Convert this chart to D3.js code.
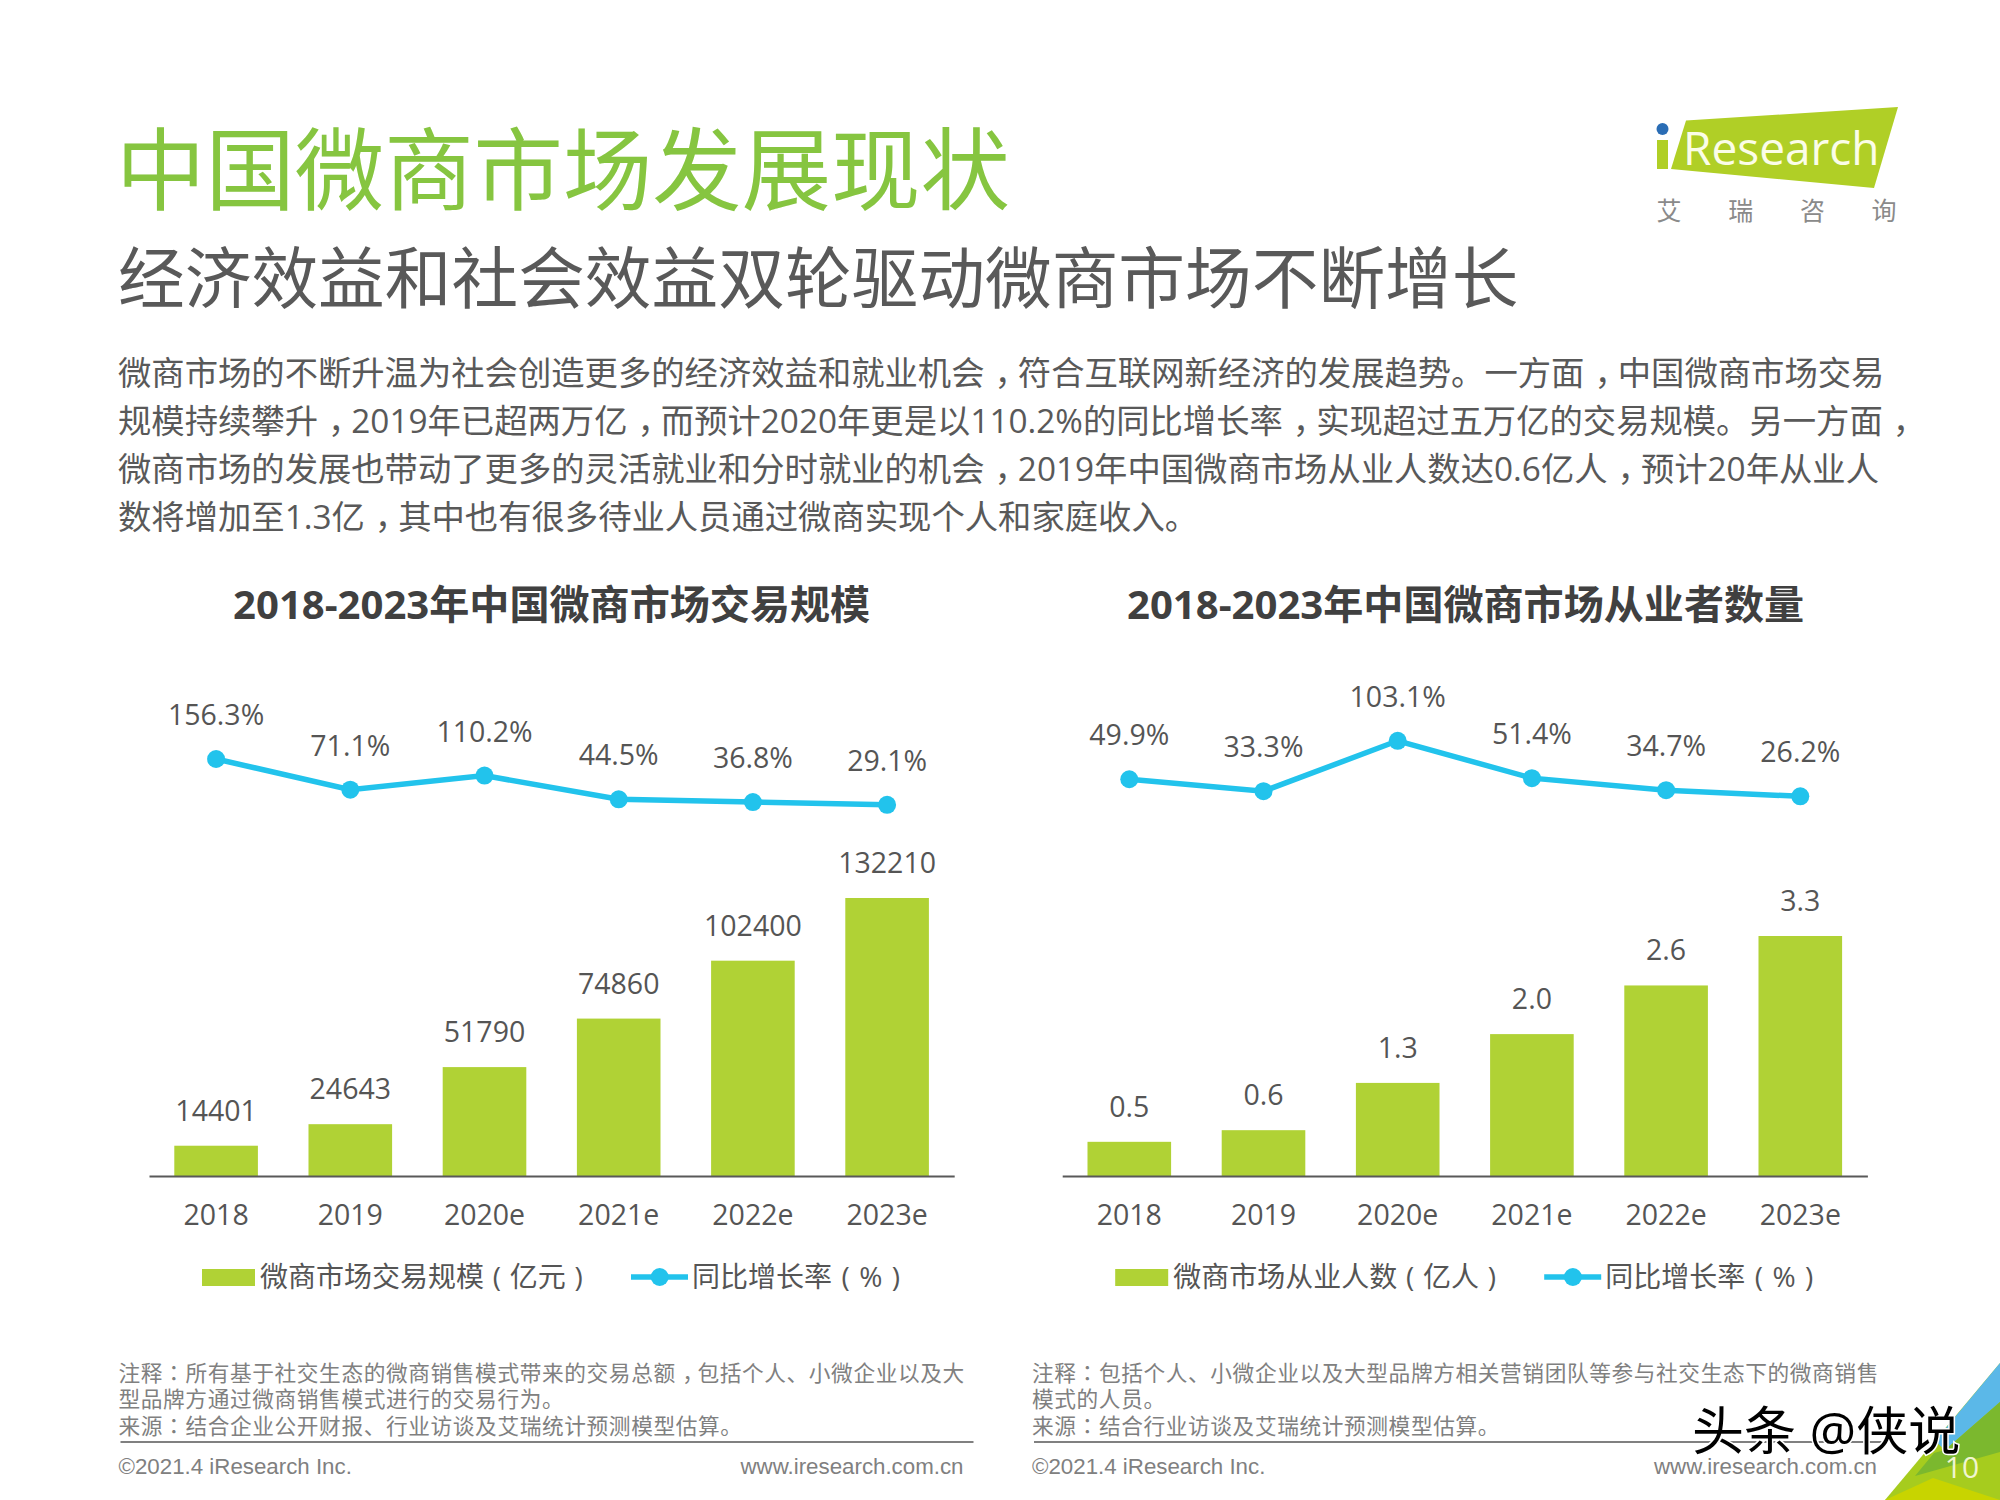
<!DOCTYPE html>
<html>
<head>
<meta charset="utf-8">
<script src="https://cdn.jsdelivr.net/npm/d3@7"></script>
<style>
html, body { margin: 0; padding: 0; background: #fff; }
svg { display: block; }
text { font-family: "Open Sans", "Noto Sans CJK SC", sans-serif; }
tspan.mid { font-family: "Open Sans", "Noto Sans CJK TC", sans-serif; }
</style>
</head>
<body>
<svg width="2000" height="1500"></svg>
<script>
// Data
var years = ["2018", "2019", "2020e", "2021e", "2022e", "2023e"];
var tradeValues = [14401, 24643, 51790, 74860, 102400, 132210];
var tradeGrowth = [156.3, 71.1, 110.2, 44.5, 36.8, 29.1];
var workerValues = [0.47, 0.63, 1.28, 1.951, 2.62, 3.3];
var workerGrowth = [49.9, 33.3, 103.1, 51.4, 34.7, 26.2];

var pageTitle = "中国微商市场发展现状";
var pageSubtitle = "经济效益和社会效益双轮驱动微商市场不断增长";
var bodyLines = [
  "微商市场的不断升温为社会创造更多的经济效益和就业机会，符合互联网新经济的发展趋势。一方面，中国微商市场交易",
  "规模持续攀升，2019年已超两万亿，而预计2020年更是以110.2%的同比增长率，实现超过五万亿的交易规模。另一方面，",
  "微商市场的发展也带动了更多的灵活就业和分时就业的机会，2019年中国微商市场从业人数达0.6亿人，预计20年从业人",
  "数将增加至1.3亿，其中也有很多待业人员通过微商实现个人和家庭收入。"
];
var leftNotes = [
  "注释：所有基于社交生态的微商销售模式带来的交易总额，包括个人、小微企业以及大",
  "型品牌方通过微商销售模式进行的交易行为。",
  "来源：结合企业公开财报、行业访谈及艾瑞统计预测模型估算。"
];
var rightNotes = [
  "注释：包括个人、小微企业以及大型品牌方相关营销团队等参与社交生态下的微商销售",
  "模式的人员。",
  "来源：结合行业访谈及艾瑞统计预测模型估算。"
];

var GREEN = "#b0d235";
var BLUE = "#22c3ec";
var DARK = "#555555";
var GREY = "#808080";
var FOOT_FONT = '"Liberation Sans", sans-serif';

var svg = d3.select("svg");

// colon comes from the TC font (mid-cell), comma gets nudged to the middle of its cell
function put(x, y, str, size, fill, anchor, weight) {
  var t = svg.append("text")
    .attr("x", x).attr("y", y)
    .attr("font-size", size)
    .attr("fill", fill)
    .attr("text-anchor", anchor || "start")
    .attr("font-weight", weight || 400);
  str.split(/([，：])/).forEach(function(part) {
    if (!part) return;
    var s = t.append("tspan").classed("mid", part === "：").text(part);
    if (part === "，") {
      s.attr("dx", "0.3em").style("letter-spacing", "-0.3em");
    }
  });
  return t;
}

// Heading
put(116, 203, pageTitle, 89.4, "#86c540");
put(118, 303, pageSubtitle, 66.7, "#595959");
bodyLines.forEach(function(line, i) {
  put(118, 385 + i * 48, line, 33.35, "#595959");
});

// Logo
var logo = svg.append("g");
logo.append("polygon")
  .attr("points", "1686,120.5 1898,107 1874,188 1671,169")
  .attr("fill", "#b0cf26");
logo.append("rect").attr("x", 1657).attr("y", 140).attr("width", 11).attr("height", 29).attr("fill", "#b0cf26");
logo.append("circle").attr("cx", 1662.5).attr("cy", 129).attr("r", 6).attr("fill", "#2a6db5");
put(1683, 165, "Research", 46, "#fbfde8");
["艾", "瑞", "咨", "询"].forEach(function(c, i) {
  put(1669 + i * 71.7, 220, c, 25, "#8a8a8a", "middle");
});

// One chart panel
function drawPanel(opt) {
  var x = d3.scaleBand().domain(years)
    .range([opt.left, opt.left + 805.2])
    .paddingInner(0.377).paddingOuter(0.1885);
  var yBar = d3.scaleLinear().domain([0, opt.barMax]).range([1176, opt.barTop]);
  var yLine = d3.scaleLinear().domain([0, opt.lineMax]).range([815.3, opt.lineTop]);
  var rows = years.map(function(d, i) {
    return { year: d, value: opt.values[i], growth: opt.growth[i] };
  });
  var cx = function(d) { return x(d.year) + x.bandwidth() / 2; };

  put(opt.titleX, 619, opt.title, 40.1, "#404040", "middle", 700);

  svg.selectAll(null).data(rows).enter().append("rect")
    .attr("x", function(d) { return x(d.year); })
    .attr("y", function(d) { return yBar(d.value); })
    .attr("width", x.bandwidth())
    .attr("height", function(d) { return 1176 - yBar(d.value); })
    .attr("fill", GREEN);

  var axis = svg.append("g")
    .attr("transform", "translate(0,1176)")
    .call(d3.axisBottom(x).tickSize(0).tickPadding(29));
  axis.select(".domain").attr("stroke", "#595959").attr("stroke-width", 2);
  axis.selectAll("text").attr("font-size", 28.5).attr("fill", DARK);

  svg.selectAll(null).data(rows).enter().append("text")
    .attr("x", cx)
    .attr("y", function(d) { return yBar(d.value) - 25; })
    .attr("text-anchor", "middle").attr("font-size", 28.5).attr("fill", DARK)
    .text(function(d) { return opt.format(d.value); });

  var line = d3.line().x(cx).y(function(d) { return yLine(d.growth); });
  svg.append("path").datum(rows)
    .attr("d", line).attr("fill", "none")
    .attr("stroke", BLUE).attr("stroke-width", 5.5);
  svg.selectAll(null).data(rows).enter().append("circle")
    .attr("cx", cx)
    .attr("cy", function(d) { return yLine(d.growth); })
    .attr("r", 9).attr("fill", BLUE);
  svg.selectAll(null).data(rows).enter().append("text")
    .attr("x", cx)
    .attr("y", function(d) { return yLine(d.growth) - 34; })
    .attr("text-anchor", "middle").attr("font-size", 28.5).attr("fill", DARK)
    .text(function(d) { return d.growth.toFixed(1) + "%"; });

  // Legend
  var dx = opt.left - 149;
  svg.append("rect").attr("x", 202 + dx).attr("y", 1269).attr("width", 53).attr("height", 17).attr("fill", GREEN);
  put(260 + dx, 1287, opt.legend, 28, DARK).style("word-spacing", "1.5px");
  svg.append("line").attr("x1", 631 + dx).attr("x2", 688 + dx).attr("y1", 1277).attr("y2", 1277)
    .attr("stroke", BLUE).attr("stroke-width", 5.5);
  svg.append("circle").attr("cx", 659.7 + dx).attr("cy", 1277).attr("r", 9).attr("fill", BLUE);
  put(692 + dx, 1287, "同比增长率\u00a0(\u00a0%\u00a0)", 28, DARK).style("word-spacing", "2.2px");

  // Notes and footer
  opt.notes.forEach(function(n, i) {
    put(opt.noteX, [1381, 1407, 1434][i], n, 21.7, GREY).style("letter-spacing", "0.6px");
  });
  svg.append("line").attr("x1", opt.noteX + 2).attr("x2", opt.noteX + 855)
    .attr("y1", 1442).attr("y2", 1442).attr("stroke", GREY).attr("stroke-width", 2);
  put(opt.noteX, 1474, "©2021.4 iResearch Inc.", 22.3, GREY).style("font-family", FOOT_FONT);
  put(opt.noteX + 845, 1474, "www.iresearch.com.cn", 22.3, GREY, "end").style("font-family", FOOT_FONT);
}

drawPanel({
  left: 149, title: "2018-2023年中国微商市场交易规模", titleX: 551.6,
  values: tradeValues, growth: tradeGrowth,
  barMax: 132210, barTop: 898, lineMax: 156.3, lineTop: 759,
  format: function(v) { return String(v); },
  legend: "微商市场交易规模\u00a0(\u00a0亿元\u00a0)", notes: leftNotes, noteX: 118.5
});
drawPanel({
  left: 1062.2, title: "2018-2023年中国微商市场从业者数量", titleX: 1465.6,
  values: workerValues, growth: workerGrowth,
  barMax: 3.3, barTop: 936, lineMax: 103.1, lineTop: 740.8,
  format: function(v) { return v.toFixed(1); },
  legend: "微商市场从业人数\u00a0(\u00a0亿人\u00a0)", notes: rightNotes, noteX: 1032
});

// Corner decoration
var corner = svg.append("g");
corner.append("polygon").attr("points", "2000,1363 1885,1500 2000,1500").attr("fill", "#a6cc1e");
corner.append("polygon").attr("points", "2000,1363 1935,1441 1945,1450 2000,1402").attr("fill", "#5bb8e8");
corner.append("polygon").attr("points", "2000,1402 1945,1450 1934,1453 1915,1476 2000,1452").attr("fill", "#7bb82e");
corner.append("polygon").attr("points", "1933,1478 1885,1500 2000,1500").attr("fill", "#c8d400");
put(1962, 1478, "10", 30, "#f0f5d0", "middle");

// Watermark
put(1692, 1450, "头条 @侠说", 52, "#000", "start", 400)
  .attr("stroke", "#fff").attr("stroke-width", 3).attr("paint-order", "stroke");
</script>
</body>
</html>
